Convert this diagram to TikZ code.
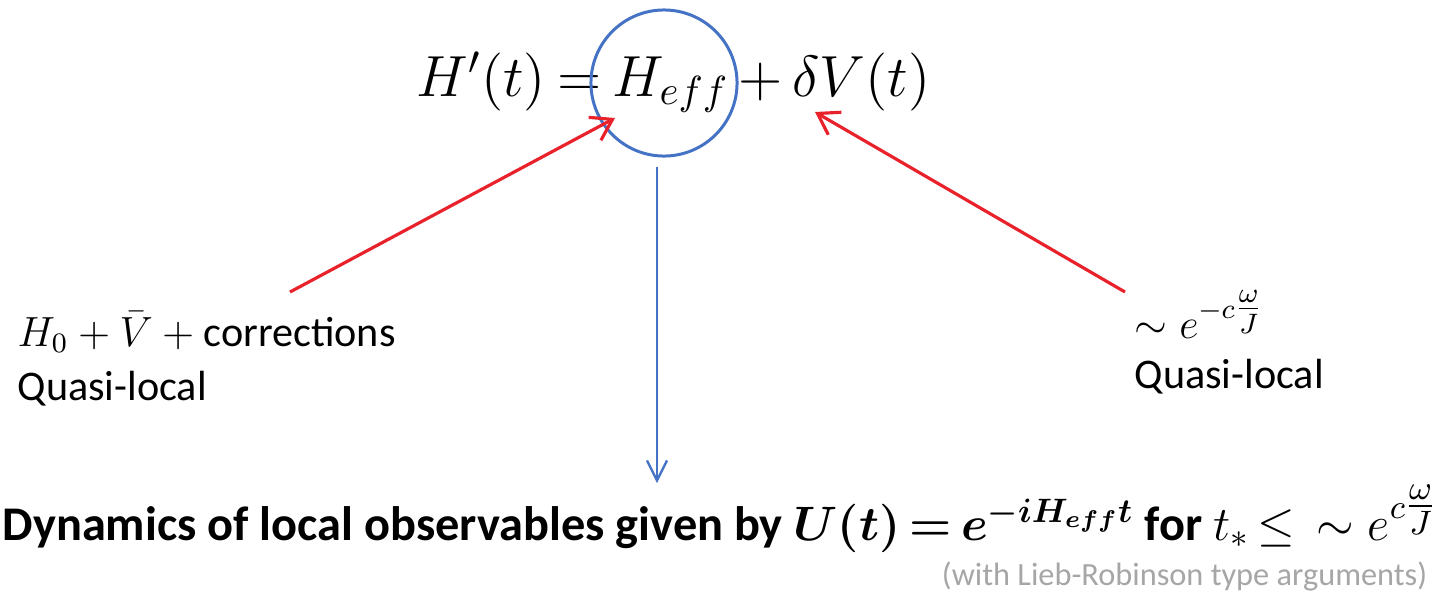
\RequirePackage{fix-cm}
\documentclass[tikz,border=0pt]{standalone}
\usepackage[no-math]{fontspec}
\setmainfont{Carlito}
\usepackage{amsmath}
\usetikzlibrary{arrows.meta}
\definecolor{ink}{HTML}{000000}
\definecolor{redline}{HTML}{E8212B}
\definecolor{blueline}{HTML}{4472C4}
\definecolor{muted}{HTML}{A6A6A6}

\begin{document}
\begin{tikzpicture}[
    x=0.01cm, y=-0.01cm,
    every node/.style={inner sep=0pt, text=ink},
    label/.style={font=\fontsize{12}{14}\selectfont, anchor=base west},
    redarrow/.style={draw=redline, line width=0.9pt, -{Straight Barb[length=0.2cm, width=0.26cm]}},
    bluearrow/.style={draw=blueline, line width=0.65pt, -{Straight Barb[length=0.2cm, width=0.2cm]}}
]
\useasboundingbox (0,0) rectangle (1433,596);

% Equation with the circled effective Hamiltonian.
\node[font=\fontsize{16.5}{19}\selectfont, anchor=base west] (eq) at (416,96)
    {\thickmuskip=3.5mu\medmuskip=3mu$H'(t) = H_{eff} + \delta V(t)$};
\node[circle, draw=blueline, line width=0.85pt, minimum size=1.46cm] (heff) at (664,83) {};

% Labels.
\node[label] (leftmath) at (17,346) {$H_0 + \bar{V} +{}$corrections};
\node[label] (leftql) at (17,400) {Quasi-local};
\node[label] (rightmath) at (1134,338) {$\sim e^{-c\tfrac{\omega}{J}}$};
\node[label] (rightql) at (1134,388) {Quasi-local};

\node[font=\fontsize{13.75}{16}\selectfont\bfseries, anchor=base west] (dyn) at (2,540)
    {Dynamics of local observables given by {\boldmath$U(t) \mathrel{\mkern-2mu=\mkern-2mu} e^{-iH_{eff}t}$} for $t_* \mathrel{\mkern-2mu\leq}\;\, \sim e^{c\tfrac{\omega}{J}}$};
\node[font=\fontsize{9.2}{11}\selectfont, text=muted, anchor=base east] (lr) at (1428,585)
    {(with Lieb-Robinson type arguments)};

% Arrows.
\coordinate (leftfrom) at (290,292);
\coordinate (lefttip) at (615,118);
\coordinate (rightfrom) at (1125,292);
\coordinate (righttip) at (815,112);
\coordinate (dyntop) at (657,483);
\draw[redarrow] (leftfrom) -- (lefttip);
\draw[redarrow] (rightfrom) -- (righttip);
\draw[bluearrow, shorten <=0.09cm] (heff.south -| dyntop) -- (dyntop);
\end{tikzpicture}
\end{document}
